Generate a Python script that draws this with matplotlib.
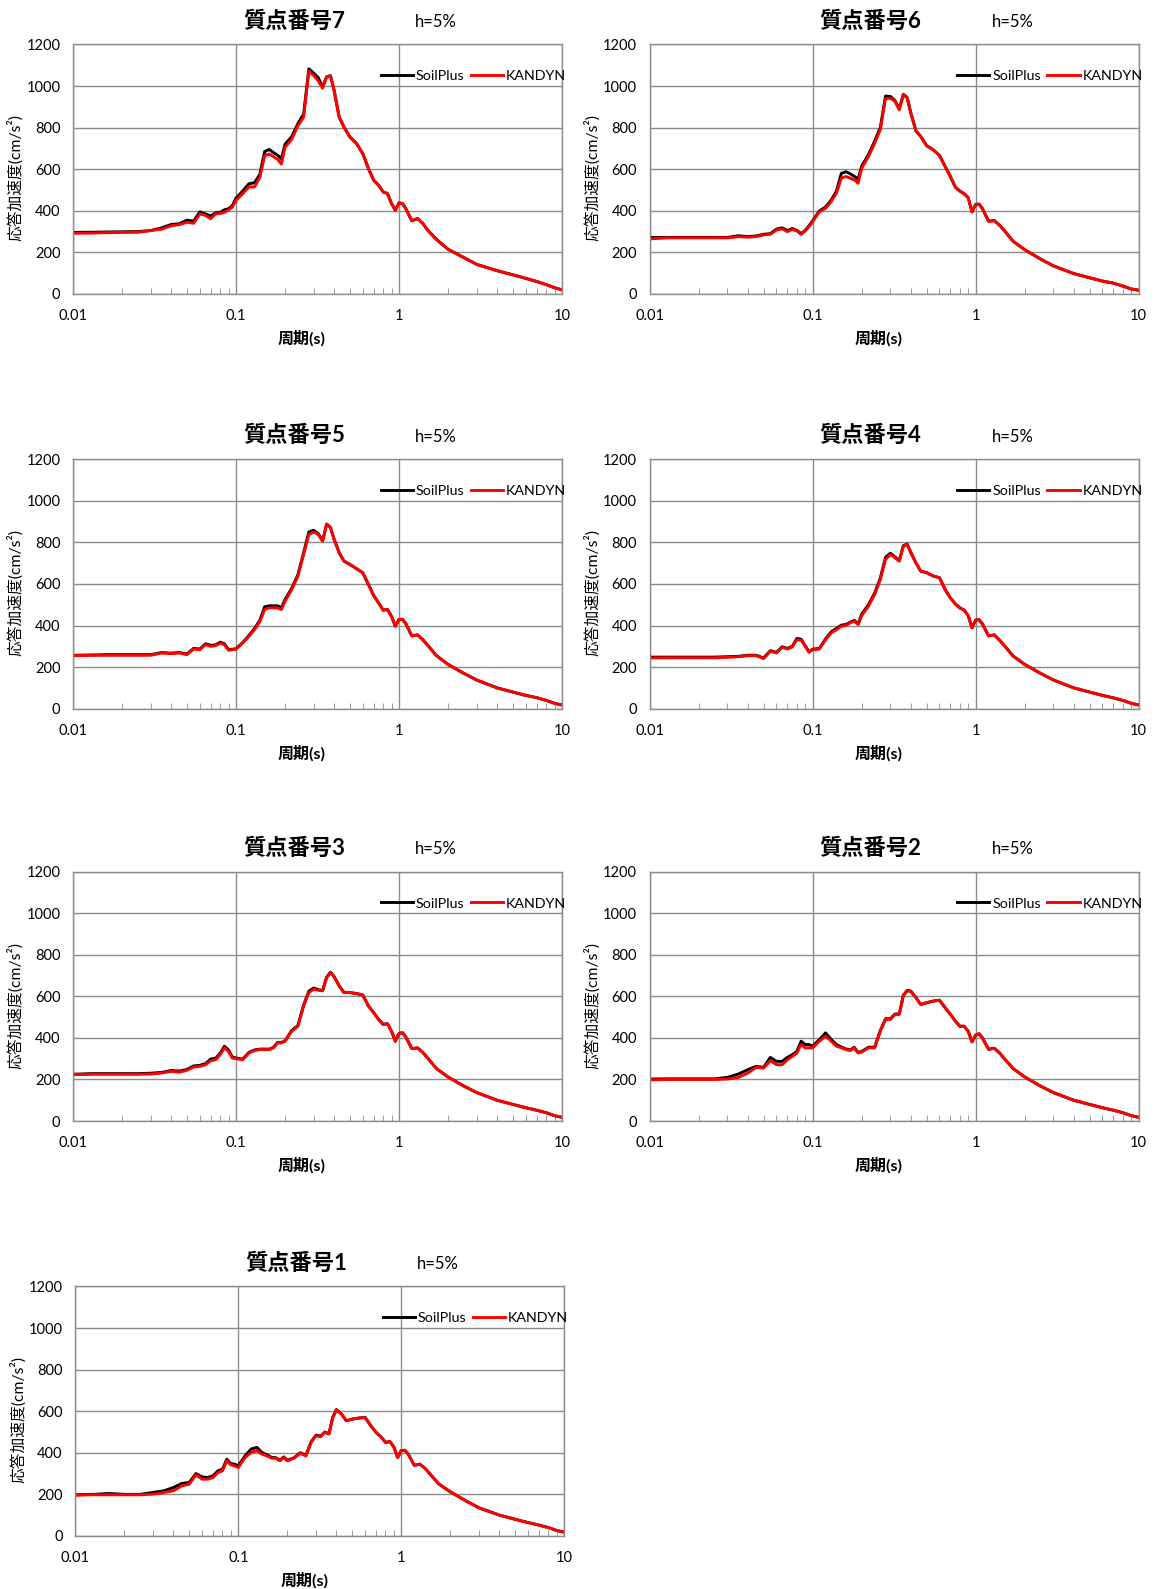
import matplotlib
matplotlib.use("Agg")
import matplotlib.pyplot as plt
import matplotlib.ticker as ticker

plt.rcParams['font.family'] = ['Lato', 'Noto Sans CJK JP', 'DejaVu Sans']

# periods (s)
period = [0.01, 0.013, 0.016, 0.02, 0.025, 0.03, 0.035, 0.04, 0.045, 0.05,
          0.055, 0.06, 0.065, 0.07, 0.075, 0.08, 0.085, 0.09, 0.095, 0.1,
          0.11, 0.12, 0.13, 0.14, 0.15, 0.16, 0.17, 0.18, 0.19, 0.2,
          0.22, 0.24, 0.26, 0.28, 0.3, 0.32, 0.34, 0.36, 0.38, 0.4,
          0.43, 0.46, 0.5, 0.55, 0.6, 0.65, 0.7, 0.75, 0.8, 0.85,
          0.9, 0.95, 1.0, 1.05, 1.1, 1.2, 1.3, 1.4, 1.5, 1.7,
          2.0, 2.5, 3.0, 4.0, 5.0, 6.0, 7.0, 8.0, 9.0, 10.0]

# 質点番号7
soil_7 = [296, 297, 298, 299, 300, 305, 318, 334, 338, 355,
          350, 395, 385, 375, 390, 392, 405, 410, 425, 460,
          495, 530, 535, 575, 685, 695, 680, 668, 650, 720,
          757, 820, 865, 1083, 1062, 1040, 995, 1045, 1050, 980,
          850, 803, 755, 723, 675, 603, 547, 523, 491, 483,
          435, 403, 438, 435, 411, 352, 363, 339, 307, 262,
          215, 175, 142, 112, 92, 75, 60, 45, 30, 20]
kan_7 = [292, 293, 295, 296, 297, 305, 312, 328, 334, 345,
         340, 385, 378, 362, 385, 387, 393, 404, 418, 450,
         482, 515, 515, 560, 665, 673, 660, 648, 625, 705,
         745, 810, 850, 1072, 1050, 1025, 990, 1045, 1048, 978,
         850, 803, 755, 723, 675, 603, 547, 523, 491, 483,
         435, 403, 438, 435, 411, 352, 363, 339, 307, 262,
         215, 175, 142, 112, 92, 75, 60, 45, 30, 20]

# 質点番号6
soil_6 = [272, 272, 272, 272, 272, 272, 280, 276, 279, 287,
          290, 312, 318, 305, 315, 306, 290, 306, 328, 352,
          400, 418, 452, 495, 580, 588, 578, 566, 552, 615,
          670, 735, 800, 952, 950, 930, 890, 960, 945, 872,
          785, 758, 714, 693, 666, 613, 565, 514, 495, 482,
          463, 395, 431, 432, 411, 350, 353, 331, 305, 253,
          213, 168, 135, 98, 78, 62, 52, 38, 24, 18]
kan_6 = [265, 270, 270, 270, 270, 270, 276, 273, 276, 284,
         287, 308, 313, 300, 311, 303, 287, 303, 324, 348,
         396, 412, 445, 485, 557, 565, 557, 549, 533, 605,
         661, 725, 790, 939, 942, 926, 886, 958, 942, 870,
         785, 758, 714, 693, 666, 613, 565, 514, 495, 482,
         463, 395, 431, 432, 411, 350, 353, 331, 305, 253,
         213, 168, 135, 98, 78, 62, 52, 38, 24, 18]

# 質点番号5
soil_5 = [257, 258, 260, 260, 260, 260, 270, 267, 270, 263,
          290, 287, 312, 305, 307, 320, 312, 285, 286, 288,
          318, 352, 386, 425, 490, 495, 495, 495, 485, 525,
          580, 645, 750, 850, 858, 842, 808, 888, 872, 815,
          750, 710, 694, 673, 654, 597, 544, 509, 474, 477,
          445, 397, 429, 430, 410, 350, 355, 332, 305, 255,
          213, 170, 138, 100, 80, 64, 53, 40, 26, 18]
kan_5 = [255, 257, 257, 257, 257, 257, 268, 265, 268, 260,
         287, 284, 308, 300, 303, 316, 308, 281, 284, 287,
         316, 348, 380, 418, 477, 485, 485, 485, 477, 517,
         573, 638, 742, 838, 850, 838, 806, 887, 870, 814,
         750, 710, 694, 673, 654, 597, 544, 509, 474, 477,
         445, 397, 429, 430, 410, 350, 355, 332, 305, 255,
         213, 170, 138, 100, 80, 64, 53, 40, 26, 18]

# 質点番号4
soil_4 = [248, 248, 248, 248, 248, 250, 252, 257, 257, 244,
          279, 271, 298, 290, 300, 338, 334, 303, 274, 286,
          290, 336, 370, 386, 402, 405, 416, 425, 408, 455,
          500, 556, 628, 728, 748, 730, 712, 784, 792, 752,
          702, 662, 654, 638, 630, 573, 533, 504, 485, 474,
          448, 389, 426, 428, 408, 350, 355, 330, 303, 253,
          213, 170, 138, 100, 80, 64, 52, 40, 26, 18]
kan_4 = [244, 245, 245, 245, 245, 247, 250, 255, 255, 241,
         276, 268, 295, 287, 297, 332, 329, 300, 271, 284,
         287, 332, 364, 380, 397, 400, 413, 421, 405, 448,
         493, 549, 621, 718, 742, 726, 710, 782, 790, 750,
         702, 662, 654, 638, 630, 573, 533, 504, 485, 474,
         448, 389, 426, 428, 408, 350, 355, 330, 303, 253,
         213, 170, 138, 100, 80, 64, 52, 40, 26, 18]

# 質点番号3
soil_3 = [225, 228, 228, 228, 228, 230, 234, 243, 240, 248,
          265, 268, 276, 298, 302, 326, 360, 342, 308, 303,
          298, 330, 342, 346, 346, 346, 354, 378, 378, 386,
          436, 460, 558, 625, 640, 632, 628, 692, 716, 695,
          650, 618, 618, 613, 606, 553, 521, 489, 465, 468,
          432, 384, 421, 425, 405, 348, 352, 330, 303, 252,
          212, 168, 137, 100, 80, 64, 52, 40, 26, 18]
kan_3 = [223, 225, 225, 225, 225, 226, 231, 239, 235, 244,
         260, 263, 271, 290, 295, 319, 352, 335, 303, 300,
         295, 327, 339, 344, 344, 344, 352, 376, 376, 384,
         432, 456, 553, 618, 634, 629, 626, 690, 715, 694,
         650, 618, 618, 613, 606, 553, 521, 489, 465, 468,
         432, 384, 421, 425, 405, 348, 352, 330, 303, 252,
         212, 168, 137, 100, 80, 64, 52, 40, 26, 18]

# 質点番号2
soil_2 = [202, 203, 203, 203, 203, 210, 226, 247, 263, 258,
          306, 287, 287, 306, 319, 335, 384, 368, 368, 360,
          392, 424, 392, 368, 356, 347, 342, 355, 330, 335,
          355, 355, 435, 492, 492, 515, 515, 605, 628, 625,
          594, 561, 569, 577, 581, 545, 513, 481, 456, 456,
          432, 381, 413, 420, 400, 345, 350, 328, 300, 252,
          212, 168, 137, 100, 80, 64, 52, 40, 26, 18]
kan_2 = [198, 200, 200, 200, 200, 202, 210, 231, 258, 255,
         290, 271, 271, 295, 311, 327, 368, 352, 352, 352,
         384, 408, 384, 360, 352, 344, 339, 352, 327, 332,
         352, 352, 432, 489, 489, 513, 513, 602, 626, 623,
         594, 561, 569, 577, 581, 545, 513, 481, 456, 456,
         432, 381, 413, 420, 400, 345, 350, 328, 300, 252,
         212, 168, 137, 100, 80, 64, 52, 40, 26, 18]

# 質点番号1
soil_1 = [198, 200, 204, 200, 200, 209, 217, 233, 252, 257,
          300, 284, 281, 289, 313, 321, 369, 348, 345, 337,
          385, 418, 426, 401, 390, 378, 376, 364, 380, 364,
          376, 400, 388, 453, 485, 480, 500, 492, 572, 608,
          586, 554, 562, 567, 570, 530, 498, 477, 450, 454,
          429, 377, 410, 412, 395, 340, 345, 325, 298, 250,
          212, 168, 135, 100, 80, 64, 52, 40, 26, 18]
kan_1 = [196, 198, 198, 198, 198, 201, 209, 217, 241, 249,
         294, 273, 273, 281, 305, 313, 361, 342, 337, 329,
         377, 402, 410, 393, 385, 374, 374, 361, 377, 361,
         374, 397, 385, 450, 482, 477, 498, 490, 570, 605,
         586, 554, 562, 567, 570, 530, 498, 477, 450, 454,
         429, 377, 410, 412, 395, 340, 345, 325, 298, 250,
         212, 168, 135, 100, 80, 64, 52, 40, 26, 18]

titles = ['質点番号7', '質点番号6', '質点番号5', '質点番号4', '質点番号3', '質点番号2', '質点番号1']
soil_list = [soil_7, soil_6, soil_5, soil_4, soil_3, soil_2, soil_1]
kan_list = [kan_7, kan_6, kan_5, kan_4, kan_3, kan_2, kan_1]

# axes positions in figure fractions
col_left = [0.063, 0.561]
row_bottom = [0.815, 0.554, 0.2945, 0.0334]
width, height = 0.4223, 0.157

fig = plt.figure(figsize=(11.58, 15.89), dpi=100)

grid_color = '#8c8c8c'

for i in range(7):
    r, c = divmod(i, 2)
    left = col_left[c] + (0.002 if i == 6 else 0)
    ax = fig.add_axes([left, row_bottom[r], width, height])

    ax.plot(period, soil_list[i], color='black', lw=2.1, label='SoilPlus')
    ax.plot(period, kan_list[i], color='#ff0000', lw=2.1, label='KANDYN')

    ax.set_xscale('log')
    ax.set_xlim(0.01, 10)
    ax.set_ylim(0, 1200)
    ax.set_yticks(range(0, 1201, 200))
    ax.set_xticks([0.01, 0.1, 1, 10])
    ax.xaxis.set_major_formatter(ticker.FuncFormatter(lambda v, p: f'{v:g}'))
    ax.xaxis.set_minor_locator(ticker.LogLocator(base=10, subs=range(2, 10)))
    ax.xaxis.set_minor_formatter(ticker.NullFormatter())

    ax.grid(which='major', color=grid_color, lw=1.0)
    ax.set_axisbelow(True)
    for s in ax.spines.values():
        s.set_color(grid_color)
        s.set_linewidth(1.0)

    ax.tick_params(axis='both', which='major', length=0, labelsize=10.5)
    ax.tick_params(axis='x', which='major', pad=11)
    ax.tick_params(axis='y', which='major', pad=9)
    ax.tick_params(axis='x', which='minor', direction='in', length=4, color=grid_color)

    ax.set_xlabel('周期(s)', fontsize=11.5, fontweight='bold', labelpad=5, x=0.468)
    ax.set_ylabel('応答加速度(cm/s²)', fontsize=11.3, labelpad=2, y=0.465)

    ax.text(0.452, 1.094, titles[i], transform=ax.transAxes, ha='center', va='center',
            fontsize=16, fontweight='bold')
    ax.text(0.742, 1.09, 'h=5%', transform=ax.transAxes, ha='center', va='center', fontsize=12)

    ax.legend(loc='center right', bbox_to_anchor=(1.008, 0.872), ncol=2, frameon=False,
              fontsize=10.3, handlelength=2.25, handletextpad=0.2, columnspacing=0.45,
              borderpad=0, borderaxespad=0)

plt.savefig('out.png', dpi=100)
